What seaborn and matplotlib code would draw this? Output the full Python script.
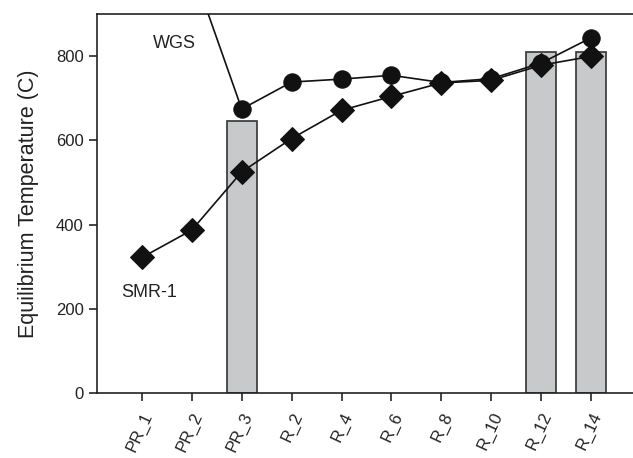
import numpy as np
import pandas as pd
import matplotlib
matplotlib.use("Agg")
import matplotlib.pyplot as plt
import seaborn as sns

categories = ["PR_1", "PR_2", "PR_3", "R_2", "R_4", "R_6", "R_8", "R_10", "R_12", "R_14"]
wgs = [np.nan, 1010, 674, 738, 745, 754, 737, 746, 783, 843]
smr1 = [322, 387, 525, 604, 671, 704, 736, 742, 778, 799]
bar_categories = ["PR_3", "R_12", "R_14"]
bar_values = [646, 810, 810]
yticks = [0, 200, 400, 600, 800]

sns.set_theme(style="ticks")
plt.rcParams["font.family"] = ["Liberation Sans", "DejaVu Sans"]

fig = plt.figure(figsize=(6.33, 4.58), dpi=100)
ax = fig.add_axes([0.1532, 0.1413, 0.8468, 0.8287])

bars = pd.DataFrame({"cat": bar_categories, "val": bar_values})
sns.barplot(data=bars, x="cat", y="val", order=categories, ax=ax, width=0.6,
            color="#c8c9cb", edgecolor="#333333", linewidth=1.2, saturation=1, zorder=1)

pos = {c: i for i, c in enumerate(categories)}
lines = pd.DataFrame({"x": [pos[c] for c in categories], "wgs": wgs, "smr": smr1})
sns.lineplot(data=lines, x="x", y="wgs", ax=ax, color="#111111", lw=1.2, marker="o",
             markersize=12.5, markeredgecolor="#111111", zorder=3)
sns.lineplot(data=lines, x="x", y="smr", ax=ax, color="#111111", lw=1.2, marker="D",
             markersize=12, markeredgecolor="#111111", zorder=4)

ax.set_xlim(-0.9, 9.84)
ax.set_ylim(0, 900)
ax.set_yticks(yticks)
ax.set_xticks(range(len(categories)))
ax.set_xticklabels(categories, rotation=65, ha="right", rotation_mode="anchor", fontsize=12, color="#222222")
ax.tick_params(axis="y", labelsize=12, labelcolor="#222222", length=6, width=1.2, direction="out")
ax.tick_params(axis="x", length=6, width=1.2, direction="out", pad=6)
ax.set_xlabel("")
ax.set_ylabel("Equilibrium Temperature (C)", fontsize=15.5, color="#222222", labelpad=12)
for s in ["left", "bottom", "top"]:
    ax.spines[s].set_linewidth(1.2)
    ax.spines[s].set_color("#222222")
ax.spines["right"].set_visible(False)

ax.text(0.65, 830, "WGS", fontsize=13, color="#222222", ha="center", va="center")
ax.text(0.15, 240, "SMR-1", fontsize=13, color="#222222", ha="center", va="center")

fig.savefig("out.png", dpi=100)
